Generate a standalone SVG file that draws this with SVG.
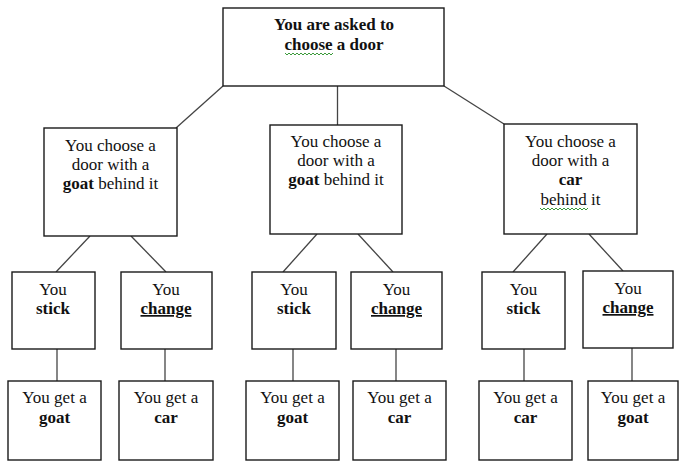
<svg xmlns="http://www.w3.org/2000/svg" width="679" height="461" viewBox="0 0 679 461">
<style>
.box{fill:#fff;stroke:#1a1a1a;stroke-width:1.4}
.con{stroke:#444;stroke-width:1.3;fill:none}
.t{font-family:'Liberation Serif','Times New Roman','DejaVu Serif',serif;font-size:17px;fill:#111;text-anchor:middle}
.b{font-weight:bold}
.u{text-decoration:underline}
.wave{fill:none;stroke:#3a9a3a;stroke-width:1}
</style>
<rect x="0" y="0" width="679" height="461" fill="#fff"/>
<g id="connectors">
<line class="con" x1="223" y1="86" x2="176" y2="128"/>
<line class="con" x1="337.5" y1="86" x2="337.5" y2="125"/>
<line class="con" x1="444" y1="86" x2="504" y2="124"/>
<line class="con" x1="90" y1="236" x2="56" y2="272"/>
<line class="con" x1="131" y1="236" x2="166" y2="272"/>
<line class="con" x1="317" y1="234" x2="283" y2="272"/>
<line class="con" x1="358" y1="234" x2="393" y2="272"/>
<line class="con" x1="547" y1="234" x2="513" y2="272"/>
<line class="con" x1="589" y1="234" x2="623" y2="271"/>
<line class="con" x1="57" y1="349" x2="57" y2="381"/>
<line class="con" x1="165" y1="349" x2="165" y2="381"/>
<line class="con" x1="293" y1="349" x2="293" y2="381"/>
<line class="con" x1="396" y1="349" x2="396" y2="381"/>
<line class="con" x1="524" y1="349" x2="524" y2="381"/>
<line class="con" x1="632" y1="348" x2="632" y2="381"/>
</g>
<g class="t" font-family="Liberation Serif, serif">
<g id="root">
<rect class="box" x="223" y="8" width="221" height="78"/>
<text class="b" x="334" y="30">You are asked to</text>
<text class="b" x="334" y="50">choose a door</text>
<path class="wave" d="M285 53 l2 2 l2 -2 l2 2 l2 -2 l2 2 l2 -2 l2 2 l2 -2 l2 2 l2 -2 l2 2 l2 -2 l2 2 l2 -2 l2 2 l2 -2 l2 2 l2 -2 l2 2 l2 -2 l2 2 l2 -2 l2 2 l2 -2"/>
</g>
<g id="door1">
<rect class="box" x="44" y="128" width="133" height="108"/>
<text x="110.5" y="151">You choose a</text>
<text x="110.5" y="170">door with a</text>
<text x="110.5" y="189"><tspan class="b">goat</tspan> behind it</text>
</g>
<g id="door2">
<rect class="box" x="270" y="125" width="132" height="109"/>
<text x="336" y="147">You choose a</text>
<text x="336" y="166">door with a</text>
<text x="336" y="185"><tspan class="b">goat</tspan> behind it</text>
</g>
<g id="door3">
<rect class="box" x="504" y="124" width="133" height="110"/>
<text x="570.5" y="147">You choose a</text>
<text x="570.5" y="166">door with a</text>
<text class="b" x="570.5" y="185">car</text>
<text x="570.5" y="205">behind it</text>
<path class="wave" d="M540 208 l2 2 l2 -2 l2 2 l2 -2 l2 2 l2 -2 l2 2 l2 -2 l2 2 l2 -2 l2 2 l2 -2 l2 2 l2 -2 l2 2 l2 -2 l2 2 l2 -2 l2 2 l2 -2 l2 2 l2 -2 l2 2 l2 -2"/>
</g>
<g id="stick1">
<rect class="box" x="12" y="272" width="83" height="77"/>
<text x="53" y="295">You</text>
<text class="b" x="53" y="314">stick</text>
</g>
<g id="change1">
<rect class="box" x="121" y="272" width="91" height="77"/>
<text x="166" y="295">You</text>
<text class="b u" x="166" y="314">change</text>
</g>
<g id="stick2">
<rect class="box" x="252" y="272" width="84" height="77"/>
<text x="294" y="295">You</text>
<text class="b" x="294" y="314">stick</text>
</g>
<g id="change2">
<rect class="box" x="351" y="272" width="91" height="77"/>
<text x="396.5" y="295">You</text>
<text class="b u" x="396.5" y="314">change</text>
</g>
<g id="stick3">
<rect class="box" x="482" y="272" width="83" height="77"/>
<text x="523.5" y="295">You</text>
<text class="b" x="523.5" y="314">stick</text>
</g>
<g id="change3">
<rect class="box" x="583" y="271" width="90" height="77"/>
<text x="628" y="294">You</text>
<text class="b u" x="628" y="313">change</text>
</g>
<g id="result1">
<rect class="box" x="8" y="381" width="93" height="79"/>
<text x="54.5" y="403">You get a</text>
<text class="b" x="54.5" y="423">goat</text>
</g>
<g id="result2">
<rect class="box" x="119" y="381" width="94" height="79"/>
<text x="166" y="403">You get a</text>
<text class="b" x="166" y="423">car</text>
</g>
<g id="result3">
<rect class="box" x="246" y="381" width="93" height="79"/>
<text x="292.5" y="403">You get a</text>
<text class="b" x="292.5" y="423">goat</text>
</g>
<g id="result4">
<rect class="box" x="353" y="381" width="93" height="79"/>
<text x="399.5" y="403">You get a</text>
<text class="b" x="399.5" y="423">car</text>
</g>
<g id="result5">
<rect class="box" x="479" y="381" width="93" height="79"/>
<text x="525.5" y="403">You get a</text>
<text class="b" x="525.5" y="423">car</text>
</g>
<g id="result6">
<rect class="box" x="588" y="381" width="90" height="79"/>
<text x="633" y="403">You get a</text>
<text class="b" x="633" y="423">goat</text>
</g>
</g>
</svg>
